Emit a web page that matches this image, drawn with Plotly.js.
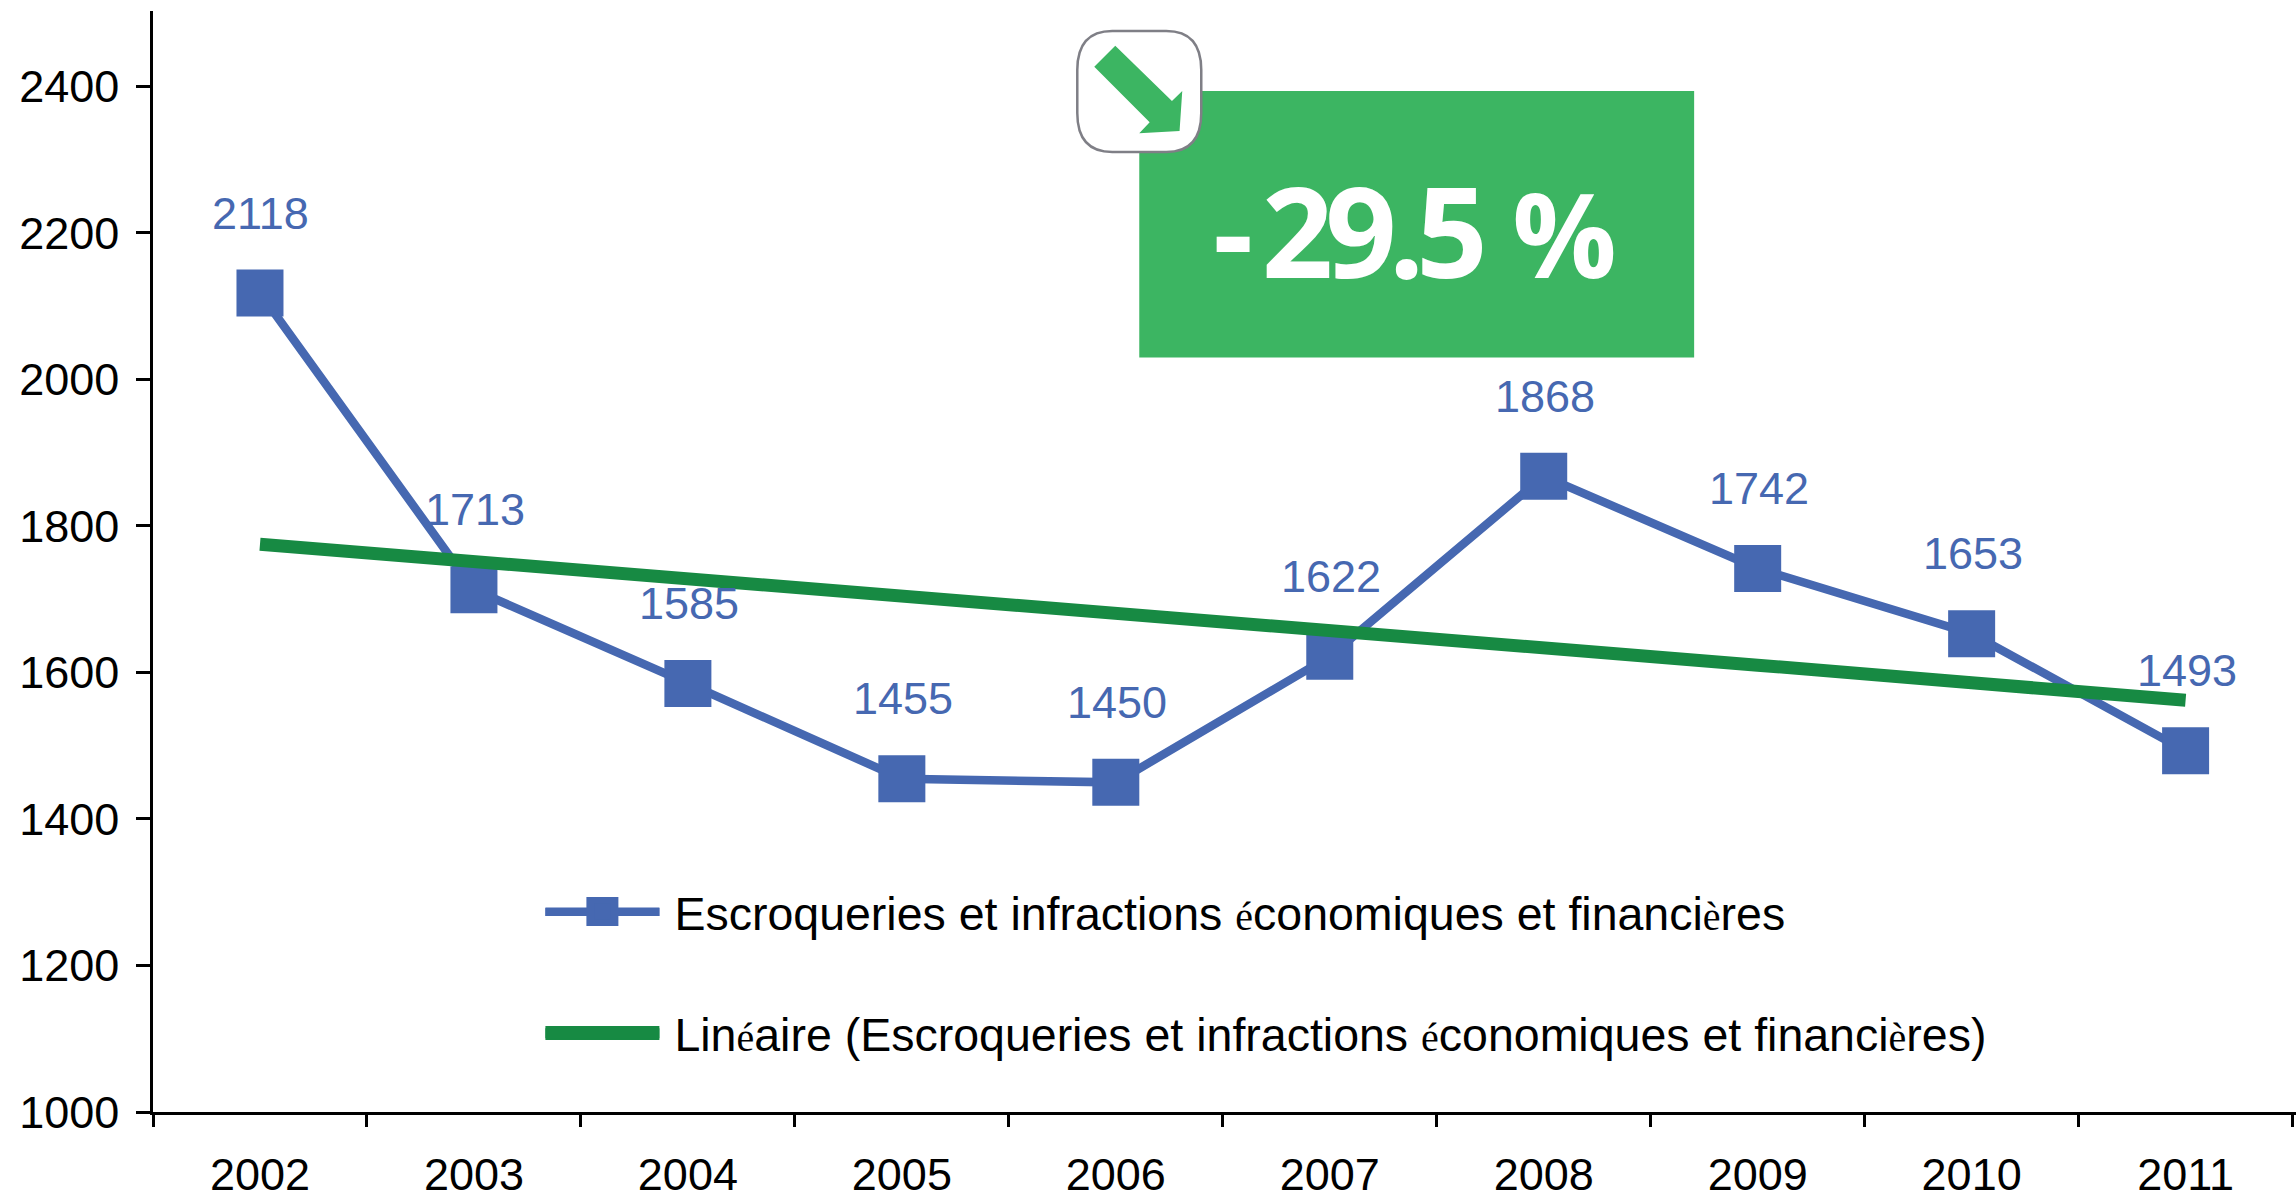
<!DOCTYPE html>
<html><head><meta charset="utf-8">
<script src="https://cdn.plot.ly/plotly-3.0.1.min.js"></script>
<style>html,body{margin:0;padding:0;background:#fff}#c{width:2296px;height:1202px}</style>
</head><body><div id="c"></div>
<script>
const years = ['2002','2003','2004','2005','2006','2007','2008','2009','2010','2011'];
const escroqueries = [2118,1713,1585,1455,1450,1622,1868,1742,1653,1493];
const lineaire = [1775,1752,1728,1705,1682,1658,1634,1610,1586,1562];
const yTicks = [1000,1200,1400,1600,1800,2000,2200,2400];
const small = c => `<span style="font-family:'Liberation Serif';font-size:40px">${c}</span>`;
const pad = '<span style="font-size:36px">&nbsp;</span>';
const nameSeries = `${pad}Escroqueries et infractions ${small('é')}conomiques et financi${small('è')}res`;
const nameTrend = `${pad}Lin${small('é')}aire (Escroqueries et infractions ${small('é')}conomiques et financi${small('è')}res)`;
const badgeText = '<span style="letter-spacing:-12px">- </span><span style="letter-spacing:-8px">29.5</span> <span style="font-size:116px">%</span>';

const W=2296,H=1202,L=152.5,R=0,T=11,B=90;
const px = x => (x-L)/(W-L-R), py = y => 1-(y-T)/(H-T-B);
const P = (x,y) => `${px(x)},${py(y)}`;
const BLUE='#4668B1', DARK='#178A43', GREEN='#3CB562';

const pathOf = pts => 'M'+pts.map(p=>P(p[0],p[1])).join('L')+'Z';
const shapes = [
 {type:'rect',xref:'paper',yref:'paper',x0:px(1139),x1:px(1694),y0:py(91),y1:py(357.5),fillcolor:GREEN,line:{width:0},layer:'above'},
 {type:'path',xref:'paper',yref:'paper',layer:'above',fillcolor:'#fff',line:{color:'#7F7F86',width:2.5},
  path:`M${P(1112,31)}L${P(1166,31)}Q${P(1201,31)} ${P(1201,70)}L${P(1201,113)}Q${P(1201,152)} ${P(1166,152)}L${P(1112,152)}Q${P(1077,152)} ${P(1077,113)}L${P(1077,70)}Q${P(1077,31)} ${P(1112,31)}Z`},
 {type:'path',xref:'paper',yref:'paper',layer:'above',fillcolor:GREEN,line:{width:0},
  path:pathOf([[1115,45.7],[1094,66.7],[1149.4,122.3],[1139,133.3],[1179.3,131],[1182,91],[1171.7,101]])},
 // legend keys are drawn larger than the library's legend caps allow
 {type:'rect',xref:'paper',yref:'paper',layer:'above',x0:px(586),x1:px(618),y0:py(897),y1:py(926),fillcolor:BLUE,line:{width:0}},
 {type:'rect',xref:'paper',yref:'paper',layer:'above',x0:px(545),x1:px(659),y0:py(908),y1:py(916),fillcolor:BLUE,line:{width:0}},
 {type:'rect',xref:'paper',yref:'paper',layer:'above',x0:px(545),x1:px(659),y0:py(1026),y1:py(1040),fillcolor:DARK,line:{width:0}}
];
const annotations = years.map((y,i)=>({x:i,y:escroqueries[i],xref:'x',yref:'y',text:String(escroqueries[i]),showarrow:false,
  xanchor:'center',yanchor:'middle',yshift:80,xshift:1,font:{family:'Liberation Sans',size:45,color:BLUE}}));
annotations.push({xref:'paper',yref:'paper',x:px(1415),y:py(230),text:badgeText,showarrow:false,xanchor:'center',yanchor:'middle',
  font:{family:'Open Sans',size:125,color:'#fff',weight:700}});

Plotly.newPlot('c',[
 {x:years,y:escroqueries,name:nameSeries,type:'scatter',mode:'lines+markers',legendgroup:'a',
  line:{color:BLUE,width:8.5},marker:{symbol:'square',size:47,color:BLUE}},
 {x:years,y:lineaire,name:nameTrend,type:'scatter',mode:'lines',legendgroup:'b',line:{color:DARK,width:13}}
],{
 width:W,height:H,margin:{l:L,r:R,t:T,b:B,pad:0},paper_bgcolor:'#fff',plot_bgcolor:'#fff',
 font:{family:'Liberation Sans',size:45,color:'#000'},showlegend:true,
 legend:{x:px(540),y:py(875),xanchor:'left',yanchor:'top',bgcolor:'rgba(0,0,0,0)',itemwidth:114,tracegroupgap:58,
   font:{family:'Liberation Sans',size:46.5,color:'#000'},itemclick:false,itemdoubleclick:false},
 xaxis:{type:'category',categoryorder:'array',categoryarray:years,range:[-0.5,9.516],tickson:'boundaries',ticks:'outside',ticklen:12,tickwidth:2.5,tickcolor:'#000',ticklabelstandoff:21,
   showline:true,linecolor:'#000',linewidth:2.5,showgrid:false,zeroline:false,tickfont:{family:'Liberation Sans',size:45,color:'#000'},fixedrange:true},
 yaxis:{range:[1000,2503],tickmode:'array',tickvals:yTicks,ticks:'outside',ticklen:14,tickwidth:2.5,tickcolor:'#000',ticklabelstandoff:8,showline:true,linecolor:'#000',linewidth:2.5,
   showgrid:false,zeroline:false,tickfont:{family:'Liberation Sans',size:45,color:'#000'},fixedrange:true},
 shapes,annotations
},{displayModeBar:false,responsive:false});
</script></body></html>
